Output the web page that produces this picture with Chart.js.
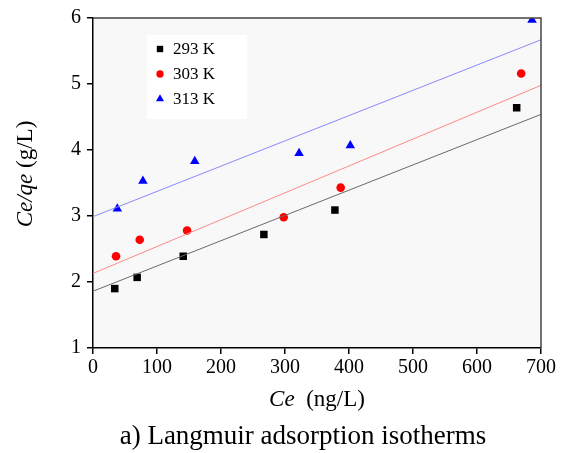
<!DOCTYPE html>
<html>
<head>
<meta charset="utf-8">
<script src="https://cdn.jsdelivr.net/npm/chart.js@4"></script>
<style>
  html, body { margin: 0; padding: 0; background: #fff; }
</style>
</head>
<body>
<canvas id="chart" width="563" height="453"></canvas>
<script>
// measured points (Ce in ng/L, Ce/qe in g/L)
const ce293 = [34, 69, 141, 267, 378, 662];
const q293  = [1.90, 2.07, 2.39, 2.72, 3.09, 4.64];
const ce303 = [36, 73, 147, 298, 387, 669];
const q303  = [2.39, 2.64, 2.78, 2.98, 3.43, 5.16];
const ce313 = [38, 78, 159, 322, 402, 686];
const q313  = [3.11, 3.53, 3.83, 3.95, 4.07, 5.97];

// fitted lines, read at both ends of the x axis
const fitX   = [0, 700];
const fit293 = [1.86, 4.54];
const fit303 = [2.13, 4.98];
const fit313 = [2.99, 5.67];

const seriesNames = ['293 K', '303 K', '313 K'];
const xTickStep = 100;
const yTickStep = 1;

const serif = "'Liberation Serif', 'Times New Roman', serif";

function pts(xs, ys) {
    return xs.map((x, i) => ({ x: x, y: ys[i] }));
}

const fitLine = (ys, color) => ({
    type: 'line',
    data: pts(fitX, ys),
    borderColor: color,
    borderWidth: 1,
    pointRadius: 0,
    fill: false,
    tension: 0
});

const markers = (xs, ys, color, style, r) => ({
    type: 'scatter',
    data: pts(xs, ys),
    backgroundColor: color,
    borderColor: color,
    borderWidth: 0,
    pointStyle: style,
    pointRadius: r,
    pointHoverRadius: r
});

const dsets = [
    fitLine(fit293, '#6a6a6a'),
    fitLine(fit303, '#ff8a8a'),
    fitLine(fit313, '#8a8aff'),
    markers(ce293, q293, '#000000', 'rect', 5.3),
    markers(ce303, q303, '#ff0000', 'circle', 4.3),
    markers(ce313, q313, '#0000ff', 'triangle', 5.5)
];

// plot background + top/right frame
const frame = {
    id: 'frame',
    beforeDraw(chart) {
        const { ctx, chartArea: a } = chart;
        ctx.save();
        ctx.fillStyle = '#f8f8f8';
        ctx.fillRect(a.left, a.top, a.right - a.left, a.bottom - a.top);
        ctx.restore();
    },
    afterDraw(chart) {
        const { ctx, chartArea: a } = chart;
        ctx.save();
        ctx.strokeStyle = '#444';
        ctx.lineWidth = 1.5;
        ctx.beginPath();
        ctx.moveTo(a.left, a.top);
        ctx.lineTo(a.right, a.top);
        ctx.lineTo(a.right, a.bottom);
        ctx.stroke();
        ctx.restore();
    }
};

// legend box inside the plot
const insideLegend = {
    id: 'insideLegend',
    afterDatasetsDraw(chart) {
        const { ctx, chartArea: a } = chart;
        const x0 = a.left + 54, y0 = a.top + 17;
        ctx.save();
        ctx.fillStyle = '#ffffff';
        ctx.fillRect(x0, y0, 100, 84);
        ctx.font = '17px ' + serif;
        ctx.textBaseline = 'middle';
        ctx.textAlign = 'left';
        for (let i = 0; i < 3; i++) {
            const ds = chart.data.datasets[3 + i];
            const y = y0 + 14 + i * 25;
            ctx.fillStyle = ds.backgroundColor;
            ctx.strokeStyle = ds.backgroundColor;
            Chart.helpers.drawPoint(ctx, {
                pointStyle: ds.pointStyle,
                radius: ds.pointRadius * 0.85,
                rotation: 0,
                borderWidth: 0
            }, x0 + 13, y);
            ctx.fillStyle = '#000';
            ctx.fillText(seriesNames[i], x0 + 26, y + 1);
        }
        ctx.restore();
    }
};

function mixedText(ctx, parts, size) {
    let w = 0;
    parts.forEach(p => {
        ctx.font = (p.it ? 'italic ' : '') + size + 'px ' + serif;
        p.w = ctx.measureText(p.t).width;
        w += p.w;
    });
    let x = -w / 2;
    parts.forEach(p => {
        ctx.font = (p.it ? 'italic ' : '') + size + 'px ' + serif;
        ctx.fillText(p.t, x, 0);
        x += p.w;
    });
}

// axis titles and caption
const titles = {
    id: 'titles',
    afterDraw(chart) {
        const { ctx } = chart;
        ctx.save();
        ctx.fillStyle = '#000';
        ctx.textBaseline = 'middle';
        ctx.textAlign = 'left';

        ctx.save();
        ctx.translate(317, 400);
        mixedText(ctx, [{ t: 'Ce', it: true }, { t: '  (ng/L)', it: false }], 23);
        ctx.restore();

        ctx.save();
        ctx.translate(26, 174);
        ctx.rotate(-Math.PI / 2);
        mixedText(ctx, [{ t: 'Ce/qe', it: true }, { t: ' (g/L)', it: false }], 23);
        ctx.restore();

        ctx.save();
        ctx.translate(303, 437);
        mixedText(ctx, [{ t: 'a) Langmuir adsorption isotherms', it: false }], 27);
        ctx.restore();

        ctx.restore();
    }
};

new Chart(document.getElementById('chart'), {
    data: { datasets: dsets },
    options: {
        responsive: false,
        animation: false,
        layout: { padding: { left: 0, right: 22, top: 16, bottom: 0 } },
        plugins: {
            legend: { display: false },
            tooltip: { enabled: false }
        },
        scales: {
            x: {
                type: 'linear',
                min: 0,
                max: 700,
                afterFit: s => { s.height = 105; },
                ticks: {
                    stepSize: xTickStep,
                    color: '#000',
                    padding: 2,
                    maxRotation: 0,
                    font: { family: serif, size: 20 }
                },
                grid: { drawOnChartArea: false, drawTicks: true, tickLength: 6, color: '#000', lineWidth: 1.5 },
                border: { display: true, color: '#000', width: 1.5 }
            },
            y: {
                type: 'linear',
                min: 1,
                max: 6,
                afterFit: s => { s.width = 93; },
                ticks: {
                    stepSize: yTickStep,
                    color: '#000',
                    padding: 6,
                    font: { family: serif, size: 20 }
                },
                grid: { drawOnChartArea: false, drawTicks: true, tickLength: 6, color: '#000', lineWidth: 1.5 },
                border: { display: true, color: '#000', width: 1.5 }
            }
        }
    },
    plugins: [frame, insideLegend, titles]
});
</script>
</body>
</html>
